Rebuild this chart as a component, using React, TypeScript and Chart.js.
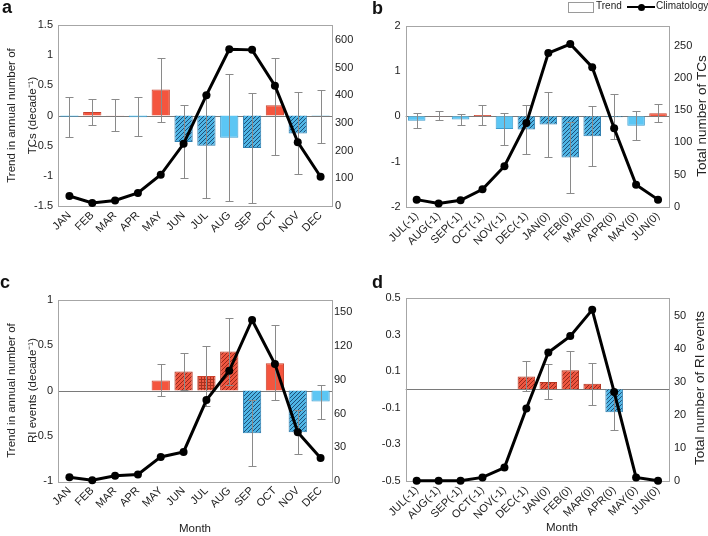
import React, { useEffect, useRef } from "react";
import { Chart, registerables } from "chart.js";
Chart.register(...registerables);

// ---------- data ----------
const MONTHS_CAL = ["JAN", "FEB", "MAR", "APR", "MAY", "JUN", "JUL", "AUG", "SEP", "OCT", "NOV", "DEC"];
const MONTHS_SPLIT = ["JUL(-1)", "AUG(-1)", "SEP(-1)", "OCT(-1)", "NOV(-1)", "DEC(-1)", "JAN(0)", "FEB(0)", "MAR(0)", "APR(0)", "MAY(0)", "JUN(0)"];

// panel a
const trendA = [-0.02, 0.06, 0.005, -0.03, 0.43, -0.44, -0.5, -0.37, -0.54, 0.17, -0.3, -0.01];
const errHighA = [0.31, 0.27, 0.27, 0.3, 0.95, 0.17, 0.36, 0.68, 0.38, 0.96, 0.39, 0.43];
const errLowA = [-0.36, -0.15, -0.25, -0.34, -0.1, -1.03, -1.37, -1.41, -1.45, -0.65, -0.97, -0.45];
const styleA = ["s", "s", "s", "s", "s", "h", "h", "s", "h", "s", "h", "s"];
const climA = [36, 11, 20, 47, 113, 225, 401, 567, 565, 435, 231, 106];
const leftTicksA = [-1.5, -1, -0.5, 0, 0.5, 1, 1.5];
const rightTicksA = [0, 100, 200, 300, 400, 500, 600];

// panel b
const trendB = [-0.1, 0.01, -0.07, 0.03, -0.28, -0.29, -0.18, -0.91, -0.44, -0.02, -0.21, 0.07];
const errHighB = [0.07, 0.12, 0.06, 0.25, 0.07, 0.26, 0.55, -0.12, 0.23, 0.49, 0.11, 0.28];
const errLowB = [-0.25, -0.08, -0.2, -0.2, -0.63, -0.83, -0.9, -1.7, -1.1, -0.51, -0.52, -0.13];
const styleB = ["s", "s", "s", "s", "s", "h", "h", "h", "h", "h", "s", "s"];
const climB = [11, 5, 10, 27, 63, 130, 239, 253, 217, 122, 34, 11];
const leftTicksB = [-2, -1, 0, 1, 2];
const rightTicksB = [0, 50, 100, 150, 200, 250];

// panel c
const trendC = [null, null, null, null, 0.11, 0.21, 0.16, 0.43, -0.47, 0.3, -0.46, -0.12];
const errHighC = [null, null, null, null, 0.29, 0.41, 0.49, 0.8, -0.11, 0.72, -0.22, 0.06];
const errLowC = [null, null, null, null, -0.06, 0.01, -0.17, 0.06, -0.83, -0.1, -0.7, -0.31];
const styleC = ["s", "s", "s", "s", "s", "h", "d", "h", "h", "s", "h", "s"];
const climC = [3.5, 1, 5, 6, 21.6, 26, 72, 98, 143, 104, 43.5, 20.7];
const leftTicksC = [-1, -0.5, 0, 0.5, 1];
const rightTicksC = [0, 30, 60, 90, 120, 150];

// panel d
const trendD = [null, null, null, null, null, 0.07, 0.04, 0.105, 0.03, -0.125, null, null];
const errHighD = [null, null, null, null, null, 0.155, 0.14, 0.21, 0.145, -0.025, null, null];
const errLowD = [null, null, null, null, null, -0.01, -0.055, 0.0, -0.085, -0.225, null, null];
const styleD = ["s", "s", "s", "s", "s", "h", "h", "h", "h", "h", "s", "s"];
const climD = [0, 0, 0, 1, 4, 22, 39, 44, 52, 27, 1, 0];
const leftTicksD = [-0.5, -0.3, -0.1, 0.1, 0.3, 0.5];
const rightTicksD = [0, 10, 20, 30, 40, 50];

// ---------- styling ----------
const FONT = "'Liberation Sans', Arial, sans-serif";
const TXT = "#222";
const RED = "#F4553E";
const RED_BORDER = "#C8402C";
const BLUE = "#5CC6F4";
const BLUE_BORDER = "#3D9CCD";

type TextItem = { text: string; x: number; y: number; rot: number; size: number; align: CanvasTextAlign; base: CanvasTextBaseline };

type Panel = {
  x: number; y: number;
  labels: string[];
  trend: (number | null)[];
  errHigh: (number | null)[];
  errLow: (number | null)[];
  styles: string[];
  clim: number[];
  leftTicks: number[]; leftMin: number; leftMax: number;
  rightTicks: number[]; rightMax: number;
  area: { l: number; r: number; t: number; b: number };
  leftW: number; rightW: number; padB: number;
  leftPad: number; rightPad: number;
  xTitle?: boolean;
  extraTexts: TextItem[];
};

const W = 354, H = 268;
const UP = -Math.PI / 2;

const PANELS: Panel[] = [
  {
    x: 0, y: 0, labels: MONTHS_CAL, trend: trendA, errHigh: errHighA, errLow: errLowA, styles: styleA, clim: climA,
    leftTicks: leftTicksA, leftMin: -1.5, leftMax: 1.5, rightTicks: rightTicksA, rightMax: 655,
    area: { l: 58, r: 332, t: 25, b: 206 }, leftW: 58, rightW: 22, padB: 0, leftPad: 5, rightPad: 3,
    extraTexts: [
      { text: "Trend in annual number of", x: 14.5, y: 115.5, rot: UP, size: 11.5, align: "center", base: "alphabetic" },
      { text: "TCs (decade\u207B\u00B9)", x: 36, y: 115.5, rot: UP, size: 11.5, align: "center", base: "alphabetic" },
    ],
  },
  {
    x: 354, y: 0, labels: MONTHS_SPLIT, trend: trendB, errHigh: errHighB, errLow: errLowB, styles: styleB, clim: climB,
    leftTicks: leftTicksB, leftMin: -2, leftMax: 2, rightTicks: rightTicksB, rightMax: 281,
    area: { l: 51.7, r: 315, t: 26, b: 206.7 }, leftW: 51.7, rightW: 39, padB: 0, leftPad: 5, rightPad: 5,
    extraTexts: [{ text: "Total number of TCs", x: 352, y: 116, rot: UP, size: 13.5, align: "center", base: "alphabetic" }],
  },
  {
    x: 0, y: 268, labels: MONTHS_CAL, trend: trendC, errHigh: errHighC, errLow: errLowC, styles: styleC, clim: climC,
    leftTicks: leftTicksC, leftMin: -1, leftMax: 1, rightTicks: rightTicksC, rightMax: 161,
    area: { l: 58, r: 332, t: 31.7, b: 213.3 }, leftW: 58, rightW: 22, padB: 0, leftPad: 5, rightPad: 2,
    xTitle: true,
    extraTexts: [
      { text: "Trend in annual number of", x: 14.5, y: 122.5, rot: UP, size: 11.5, align: "center", base: "alphabetic" },
      { text: "RI events (decade\u207B\u00B9)", x: 36, y: 122.5, rot: UP, size: 11.5, align: "center", base: "alphabetic" },
    ],
  },
  {
    x: 354, y: 268, labels: MONTHS_SPLIT, trend: trendD, errHigh: errHighD, errLow: errLowD, styles: styleD, clim: climD,
    leftTicks: leftTicksD, leftMin: -0.5, leftMax: 0.5, rightTicks: rightTicksD, rightMax: 55.6,
    area: { l: 51.7, r: 315, t: 30, b: 212.7 }, leftW: 51.7, rightW: 39, padB: 0, leftPad: 5, rightPad: 5,
    extraTexts: [
      { text: "Total number of RI events", x: 350, y: 120, rot: UP, size: 13.5, align: "center", base: "alphabetic" },
      { text: "Month", x: 208, y: 263, rot: 0, size: 11.5, align: "center", base: "alphabetic" },
    ],
  },
];

function makePattern(base: string, line: string, kind: string): CanvasPattern | string {
  const c = document.createElement("canvas");
  const s = kind === "h" ? 4 : 3;
  c.width = s;
  c.height = s;
  const g = c.getContext("2d");
  if (!g) return base;
  g.fillStyle = base;
  g.fillRect(0, 0, s, s);
  if (kind === "h") {
    g.strokeStyle = line;
    g.lineWidth = 1;
    g.beginPath();
    g.moveTo(0, s);
    g.lineTo(s, 0);
    g.moveTo(-1, 1);
    g.lineTo(1, -1);
    g.moveTo(s - 1, s + 1);
    g.lineTo(s + 1, s - 1);
    g.stroke();
  } else {
    g.fillStyle = line;
    g.fillRect(0, 0, 1, s);
    g.fillRect(0, 0, s, 1);
  }
  return g.createPattern(c, "repeat") || base;
}

function makeChart(canvas: HTMLCanvasElement, p: Panel): Chart {
  const patBlue = makePattern("#4FB6E6", "#1E4F78", "h");
  const patRed = makePattern("#EE5640", "#98281A", "h");
  const patRedDot = makePattern("#F05A44", "#A8321F", "d");

  const fills = p.trend.map((v, i) => {
    const pos = (v ?? 0) >= 0;
    const st = p.styles[i];
    if (st === "h") return pos ? patRed : patBlue;
    if (st === "d") return patRedDot;
    return pos ? RED : BLUE;
  });
  const borders = p.trend.map((v, i) => {
    const pos = (v ?? 0) >= 0;
    if (p.styles[i] === "h") return pos ? "#B3341F" : "#2F7FB0";
    return pos ? RED_BORDER : BLUE_BORDER;
  });

  const xH = H - p.padB - p.area.b;

  const framePlugin = {
    id: "frameZero",
    beforeDatasetsDraw(chart: any) {
      const { ctx, chartArea: a } = chart;
      const y0 = chart.scales.y.getPixelForValue(0);
      ctx.save();
      ctx.strokeStyle = "#7a7a7a";
      ctx.lineWidth = 1;
      ctx.beginPath();
      ctx.moveTo(a.left, Math.round(y0) + 0.5);
      ctx.lineTo(a.right, Math.round(y0) + 0.5);
      ctx.stroke();
      ctx.strokeStyle = "#a6a6a6";
      ctx.strokeRect(Math.round(a.left) + 0.5, Math.round(a.top) + 0.5, Math.round(a.right - a.left), Math.round(a.bottom - a.top));
      ctx.restore();
    },
  };

  const errPlugin = {
    id: "errBars",
    afterDatasetDraw(chart: any, args: any) {
      if (args.meta.type !== "bar") return;
      const { ctx } = chart;
      const ys = chart.scales.y;
      ctx.save();
      ctx.strokeStyle = "#8a8a8a";
      ctx.lineWidth = 1;
      args.meta.data.forEach((el: any, i: number) => {
        const hi = p.errHigh[i];
        const lo = p.errLow[i];
        if (hi == null || lo == null) return;
        const x = Math.round(el.x) + 0.5;
        const yh = Math.round(ys.getPixelForValue(hi)) + 0.5;
        const yl = Math.round(ys.getPixelForValue(lo)) + 0.5;
        ctx.beginPath();
        ctx.moveTo(x, yh);
        ctx.lineTo(x, yl);
        ctx.moveTo(x - 4, yh);
        ctx.lineTo(x + 4, yh);
        ctx.moveTo(x - 4, yl);
        ctx.lineTo(x + 4, yl);
        ctx.stroke();
      });
      ctx.restore();
    },
  };

  const textPlugin = {
    id: "extraTexts",
    afterDraw(chart: any) {
      const { ctx } = chart;
      p.extraTexts.forEach((t) => {
        ctx.save();
        ctx.translate(t.x, t.y);
        ctx.rotate(t.rot);
        ctx.font = `${t.size}px ${FONT}`;
        ctx.fillStyle = TXT;
        ctx.textAlign = t.align;
        ctx.textBaseline = t.base;
        ctx.fillText(t.text, 0, 0);
        ctx.restore();
      });
    },
  };

  return new Chart(canvas, {
    type: "bar",
    data: {
      labels: p.labels,
      datasets: [
        {
          type: "line",
          label: "Climatology",
          data: p.clim,
          yAxisID: "y1",
          borderColor: "#000",
          backgroundColor: "#000",
          borderWidth: 3,
          pointRadius: 4,
          pointBackgroundColor: "#000",
          pointBorderWidth: 0,
          tension: 0,
          clip: false as any,
          order: 0,
        } as any,
        {
          type: "bar",
          label: "Trend",
          data: p.trend,
          yAxisID: "y",
          backgroundColor: fills as any,
          borderColor: borders,
          borderWidth: 1,
          barPercentage: 0.8,
          categoryPercentage: 1,
          order: 1,
        } as any,
      ],
    },
    options: {
      responsive: false,
      animation: false,
      events: [],
      layout: {
        padding: {
          left: p.area.l - p.leftW,
          right: W - p.area.r - p.rightW,
          top: p.area.t,
          bottom: p.padB,
        },
      },
      plugins: { legend: { display: false }, tooltip: { enabled: false } },
      scales: {
        x: {
          type: "category",
          offset: true,
          grid: { display: false, drawTicks: false },
          border: { display: false },
          ticks: {
            autoSkip: false,
            maxRotation: 45,
            minRotation: 45,
            padding: 3,
            color: TXT,
            font: { family: FONT, size: 11 },
          },
          title: p.xTitle
            ? { display: true, text: "Month", color: TXT, font: { family: FONT, size: 11.5 }, padding: 0 }
            : { display: false },
          afterFit: (s: any) => {
            s.height = xH;
          },
        },
        y: {
          position: "left",
          min: p.leftMin,
          max: p.leftMax,
          afterBuildTicks: (s: any) => {
            s.ticks = p.leftTicks.map((v) => ({ value: v }));
          },
          grid: { display: false, drawTicks: false },
          border: { display: false },
          ticks: {
            padding: p.leftPad,
            color: TXT,
            font: { family: FONT, size: 11 },
            callback: (v: any) => String(v),
          },
          afterFit: (s: any) => {
            s.width = p.leftW;
          },
        },
        y1: {
          position: "right",
          min: 0,
          max: p.rightMax,
          afterBuildTicks: (s: any) => {
            s.ticks = p.rightTicks.map((v) => ({ value: v }));
          },
          grid: { display: false, drawTicks: false },
          border: { display: false },
          ticks: {
            padding: p.rightPad,
            color: TXT,
            font: { family: FONT, size: 11 },
            callback: (v: any) => String(v),
          },
          afterFit: (s: any) => {
            s.width = p.rightW;
          },
        },
      },
    } as any,
    plugins: [framePlugin, errPlugin, textPlugin],
  });
}

export default function App() {
  const r0 = useRef<HTMLCanvasElement>(null);
  const r1 = useRef<HTMLCanvasElement>(null);
  const r2 = useRef<HTMLCanvasElement>(null);
  const r3 = useRef<HTMLCanvasElement>(null);
  const refs = [r0, r1, r2, r3];

  useEffect(() => {
    const charts = PANELS.map((p, i) => makeChart(refs[i].current as HTMLCanvasElement, p));
    return () => charts.forEach((c) => c.destroy());
  }, []);

  const letter = (t: string, left: number, top: number) => (
    <div
      style={{
        position: "absolute", left, top, fontFamily: FONT, fontWeight: "bold", fontSize: 18, lineHeight: "18px", color: "#111",
      }}
    >
      {t}
    </div>
  );

  return (
    <div style={{ position: "absolute", left: 0, top: 0, width: 708, height: 536, background: "#fff", overflow: "hidden" }}>
      {PANELS.map((p, i) => (
        <canvas
          key={i}
          ref={refs[i]}
          width={W}
          height={H}
          style={{ position: "absolute", left: p.x, top: p.y, width: W, height: H }}
        />
      ))}
      {letter("a", 2, -2)}
      {letter("b", 372, -1)}
      {letter("c", 0, 273)}
      {letter("d", 372, 273)}
      {/* legend */}
      <div style={{ position: "absolute", left: 568, top: 2, width: 24, height: 9, border: "1px solid #9a9a9a", background: "#fff" }} />
      <div style={{ position: "absolute", left: 596, top: 1, fontFamily: FONT, fontSize: 10, lineHeight: "10px", color: TXT }}>Trend</div>
      <div style={{ position: "absolute", left: 627, top: 6, width: 28, height: 2, background: "#000" }} />
      <div style={{ position: "absolute", left: 638, top: 3.5, width: 7, height: 7, borderRadius: "50%", background: "#000" }} />
      <div style={{ position: "absolute", left: 656, top: 1, fontFamily: FONT, fontSize: 10, lineHeight: "10px", color: TXT }}>Climatology</div>
    </div>
  );
}
